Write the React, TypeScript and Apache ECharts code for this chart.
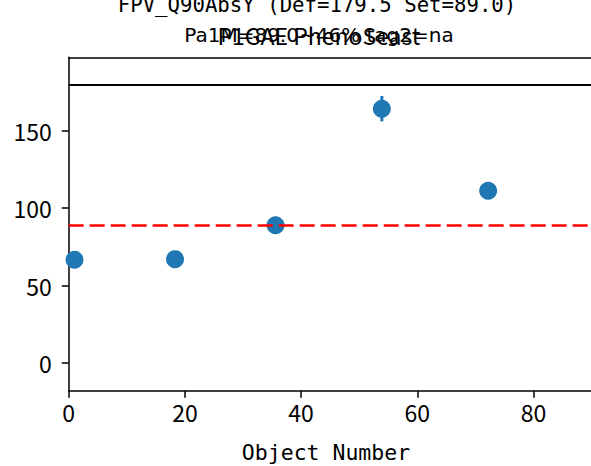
import React, { useEffect, useRef } from "react";
import * as echarts from "echarts";

const objectNumbers = [1, 18.3, 35.6, 53.9, 72.2];
const values = [66.7, 67.1, 89.0, 164.3, 111.3];
const errors = [0, 0, 0, 8.2, 0];
const defValue = 179.5;
const setValue = 89.0;
const xTicks = [0, 20, 40, 60, 80];
const yTicks = [0, 50, 100, 150];
const titleLine1 = "FPV_Q90AbsY (Def=179.5 Set=89.0)";
const titleLine2a = "P1GAE PhenoSeast";
const titleLine2b = "Pa1M=89.0~46% tag2=na";
const xLabel = "Object Number";

export default function App() {
  const ref = useRef<HTMLDivElement>(null);
  useEffect(() => {
    const chart = echarts.init(ref.current!, null, { renderer: "svg" });
    const blue = "#1f77b4";
    chart.setOption({
      animation: false,
      grid: { left: 68.7, top: 57.3, right: 0, bottom: 75.3, containLabel: false },
      xAxis: [
        {
          type: "value",
          min: 0,
          max: 89.9,
          position: "bottom",
          splitLine: { show: false },
          axisLine: { show: true, onZero: false, lineStyle: { color: "#000", width: 1.5 } },
          axisTick: { show: true, inside: false, length: 7, customValues: xTicks, lineStyle: { color: "#000", width: 1.5 } },
          axisLabel: { customValues: xTicks, color: "#000", fontSize: 23, fontFamily: "Noto Sans CJK SC", margin: 10 },
        },
        {
          type: "value",
          min: 0,
          max: 89.9,
          position: "top",
          splitLine: { show: false },
          axisLine: { show: true, onZero: false, lineStyle: { color: "#000", width: 1.5 } },
          axisTick: { show: false },
          axisLabel: { show: false },
        },
      ],
      yAxis: {
        type: "value",
        min: -17.9,
        max: 197.5,
        splitLine: { show: false },
        axisLine: { show: true, onZero: false, lineStyle: { color: "#000", width: 1.5 } },
        axisTick: { show: true, length: 7, customValues: yTicks, lineStyle: { color: "#000", width: 1.5 } },
        axisLabel: { customValues: yTicks, color: "#000", fontSize: 23, fontFamily: "Noto Sans CJK SC", margin: 17 },
      },
      series: [
        {
          type: "line",
          data: [],
          markLine: {
            symbol: "none",
            silent: true,
            label: { show: false },
            data: [
              { yAxis: defValue, lineStyle: { color: "#000", width: 2, type: "solid" } },
              { yAxis: setValue, lineStyle: { color: "#ff0000", width: 2.5, type: [15, 6] } },
            ],
          },
        },
        {
          type: "custom",
          clip: false,
          data: objectNumbers.map((x, i) => [x, values[i], errors[i]]),
          renderItem: (params: any, api: any) => {
            const x = api.value(0);
            const y = api.value(1);
            const e = api.value(2);
            if (!e) return null;
            const p1 = api.coord([x, y - e]);
            const p2 = api.coord([x, y + e]);
            return {
              type: "line",
              shape: { x1: p1[0], y1: p1[1], x2: p2[0], y2: p2[1] },
              style: { stroke: blue, lineWidth: 3 },
            };
          },
        },
        {
          type: "scatter",
          clip: false,
          symbolSize: 18,
          itemStyle: { color: blue, opacity: 1 },
          data: objectNumbers.map((x, i) => [x, values[i]]),
        },
      ],
      graphic: [
        {
          type: "text",
          x: 317,
          y: 5,
          style: { text: titleLine1, fontFamily: "DejaVu Sans Mono", fontSize: 20.7, fill: "#000", align: "center", verticalAlign: "middle" },
        },
        {
          type: "text",
          x: 319,
          y: 35,
          style: { text: titleLine2a, fontFamily: "Noto Sans CJK SC", fontSize: 23, fill: "#000", align: "center", verticalAlign: "middle" },
        },
        {
          type: "text",
          x: 319,
          y: 35,
          style: { text: titleLine2b, fontFamily: "DejaVu Sans", fontSize: 20, fill: "#000", align: "center", verticalAlign: "middle" },
        },
        {
          type: "text",
          x: 326,
          y: 452,
          style: { text: xLabel, fontFamily: "DejaVu Sans Mono", fontSize: 21.5, fill: "#000", align: "center", verticalAlign: "middle" },
        },
      ],
    });
    return () => chart.dispose();
  }, []);
  return <div ref={ref} style={{ width: 591, height: 466, position: "absolute", left: 0, top: 0 }} />;
}
